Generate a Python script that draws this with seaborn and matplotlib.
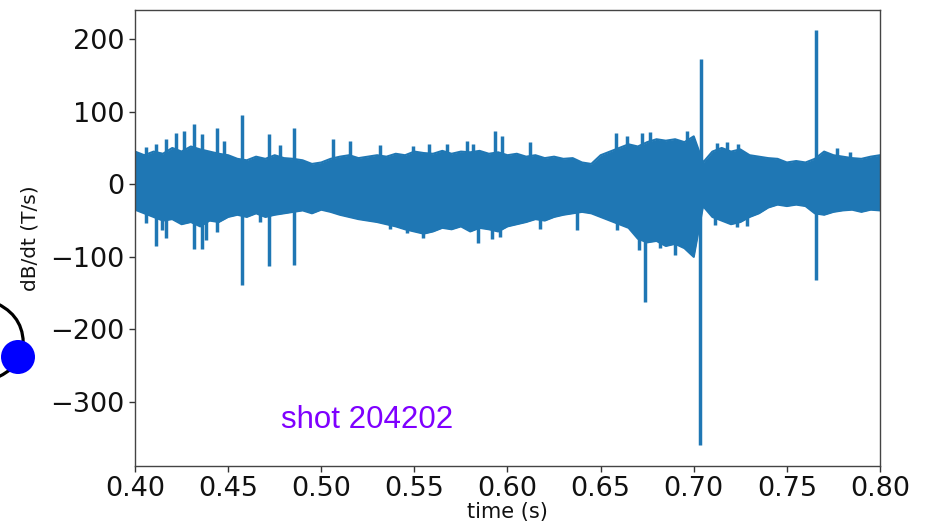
import numpy as np
import pandas as pd
import matplotlib
matplotlib.use("Agg")
import matplotlib.pyplot as plt
import seaborn as sns
from matplotlib.path import Path
from matplotlib.patches import PathPatch, Ellipse

# ---- data ----
t_env = [0.400, 0.405, 0.410, 0.415, 0.420, 0.425, 0.430, 0.435, 0.440, 0.445,
         0.450, 0.455, 0.460, 0.465, 0.470, 0.475, 0.480, 0.485, 0.490, 0.495,
         0.500, 0.505, 0.510, 0.515, 0.520, 0.525, 0.530, 0.535, 0.540, 0.545,
         0.550, 0.555, 0.560, 0.565, 0.570, 0.575, 0.580, 0.585, 0.590, 0.595,
         0.600, 0.605, 0.610, 0.615, 0.620, 0.625, 0.630, 0.635, 0.640, 0.645,
         0.650, 0.655, 0.660, 0.665, 0.670, 0.675, 0.680, 0.685, 0.690, 0.695,
         0.700, 0.705, 0.710, 0.715, 0.720, 0.725, 0.730, 0.735, 0.740, 0.745,
         0.750, 0.755, 0.760, 0.765, 0.770, 0.775, 0.780, 0.785, 0.790, 0.795,
         0.800]
upper_env = [45, 40, 45, 42, 50, 45, 52, 48, 45, 42,
             40, 35, 33, 38, 35, 40, 36, 35, 33, 28,
             30, 35, 38, 40, 36, 38, 40, 38, 42, 40,
             45, 43, 42, 46, 42, 45, 44, 46, 42, 44,
             40, 42, 38, 40, 36, 38, 35, 36, 30, 28,
             40, 45, 50, 55, 52, 58, 62, 60, 62, 58,
             66, 30, 45, 50, 45, 48, 40, 38, 36, 35,
             30, 32, 30, 35, 45, 40, 38, 36, 35, 38,
             40]
lower_env = [-35, -40, -45, -50, -48, -55, -52, -58, -50, -52,
             -45, -42, -45, -40, -45, -42, -40, -38, -36, -40,
             -35, -38, -42, -45, -48, -50, -52, -55, -58, -62,
             -65, -68, -65, -60, -62, -58, -65, -60, -62, -65,
             -58, -55, -52, -48, -50, -45, -42, -40, -38, -40,
             -45, -50, -55, -60, -75, -80, -78, -85, -82, -88,
             -100, -30, -45, -50, -55, -52, -45, -40, -32, -28,
             -30, -28, -30, -40, -42, -38, -36, -35, -38, -35,
             -36]

spike_up_t = [0.4060, 0.4113, 0.4166, 0.4220, 0.4263, 0.4317, 0.4360, 0.4440,
              0.4478, 0.4575, 0.4720, 0.4780, 0.4854, 0.5063, 0.5154, 0.5315,
              0.5490, 0.5578, 0.5675, 0.5780, 0.5815, 0.5933, 0.5970, 0.6120,
              0.6580, 0.6640, 0.6720, 0.6765, 0.6964, 0.7037, 0.7125, 0.7179,
              0.7238, 0.7656, 0.7770, 0.7840]
spike_up_v = [52, 56, 63, 70, 73, 83, 69, 78,
              60, 95, 69, 54, 78, 63, 60, 54,
              53, 55, 56, 60, 55, 73, 67, 58,
              70, 66, 70, 72, 74, 173, 57, 58,
              56, 212, 50, 45]
spike_dn_t = [0.4059, 0.4113, 0.4145, 0.4166, 0.4317, 0.4360, 0.4380, 0.4440,
              0.4575, 0.4670, 0.4720, 0.4854, 0.5370, 0.5460, 0.5546, 0.5840,
              0.5917, 0.5960, 0.6175, 0.6373, 0.6588, 0.6705, 0.6738, 0.6819,
              0.6899, 0.7035, 0.7114, 0.7232, 0.7286, 0.7656]
spike_dn_v = [-54, -85, -63, -74, -89, -89, -77, -66,
              -139, -52, -113, -111, -61, -67, -74, -81,
              -75, -72, -62, -63, -63, -91, -162, -88,
              -98, -359, -56, -59, -57, -132]

annotation = "shot 204202"

# ---- figure ----
sns.set_style("ticks")
plt.rcParams['font.family'] = ['DejaVu Sans']
W, H = 928, 523
fig = plt.figure(figsize=(W / 100, H / 100), dpi=100)
ax = fig.add_axes([135 / W, 1 - 466 / H, (880 - 135) / W, (466 - 10) / H])

color = "#1f77b4"
env = pd.DataFrame({"t": t_env, "upper": upper_env, "lower": lower_env})
ax.fill_between(env["t"], env["lower"], env["upper"], color=color, lw=0)
sns.lineplot(data=env, x="t", y="upper", ax=ax, color=color, lw=1.5)
sns.lineplot(data=env, x="t", y="lower", ax=ax, color=color, lw=1.5)
ax.vlines(spike_up_t, 0, spike_up_v, color=color, lw=2.5)
ax.vlines(spike_dn_t, spike_dn_v, 0, color=color, lw=2.5)

ax.set_xlim(0.40, 0.80)
ax.set_ylim(-388, 240)
ax.set_xticks(np.arange(0.40, 0.801, 0.05))
ax.set_xticklabels([f"{v:.2f}" for v in np.arange(0.40, 0.801, 0.05)])
ax.set_yticks([-300, -200, -100, 0, 100, 200])
ax.set_yticklabels(["\u2212300", "\u2212200", "\u2212100", "0", "100", "200"])
ax.tick_params(labelsize=19.5, length=4, width=1, colors="#333333",
               labelcolor="#111111")
for s in ax.spines.values():
    s.set_visible(True)
    s.set_color("#444444")
    s.set_linewidth(1.0)
ax.set_xlabel("time (s)", fontsize=15, labelpad=0, color="#111111")
ax.set_ylabel("dB/dt (T/s)", fontsize=14.5, labelpad=8, color="#111111")

ax.text(0.5246, -325, annotation, color="#7f00ff", fontsize=22.5,
        family=["Liberation Sans", "DejaVu Sans"], ha="center", va="center")

# decoration at left edge (part of a diagram)
def fx(px):
    return px / W

def fy(py):
    return 1 - py / H

verts = [(fx(-2), fy(304)), (fx(26), fy(318)), (fx(23), fy(350)),
         (fx(18), fy(368)), (fx(-2), fy(377))]
codes = [Path.MOVETO, Path.CURVE3, Path.CURVE3, Path.CURVE3, Path.CURVE3]
fig.patches.append(PathPatch(Path(verts, codes), transform=fig.transFigure,
                             fill=False, ec="black", lw=2.3, figure=fig))
fig.patches.append(Ellipse((fx(18), fy(357)), 34 / W, 34 / H,
                           transform=fig.transFigure,
                           fc="#0000ff", ec="none", figure=fig))

fig.savefig("out.png", dpi=100)
